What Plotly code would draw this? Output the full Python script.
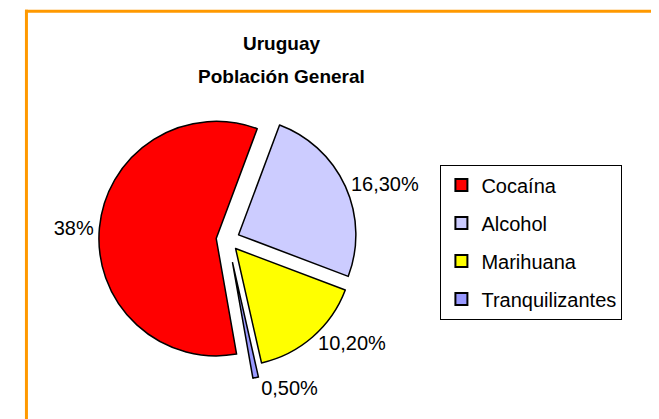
import plotly.graph_objects as go

labels = ["Cocaína", "Alcohol", "Marihuana", "Tranquilizantes"]
values = [38.0, 16.3, 10.2, 0.5]
value_text = ["38%", "16,30%", "10,20%", "0,50%"]
colors = ["#FF0000", "#CCCCFF", "#FFFF00", "#9999FF"]
pulls = [0.1, 0.1, 0.1, 0.2]
title_lines = ["Uruguay", "Población General"]

W, H = 651, 452
OX, SY = 8, 452 / 419          # page offset / vertical scale of the photographed page
FONT = "Liberation Sans, Arial, sans-serif"


def px(x):
    return (x - OX) / W


def py(y):
    return 1 - (y * SY) / H


# pie box
cx, cy, r = 219 - OX, 233 * SY, 123
half = r * (1 + max(pulls))
fig = go.Figure()

fig.add_trace(go.Pie(
    labels=labels,
    values=values,
    text=value_text,
    texttemplate="%{text}",
    textposition="outside",
    textfont=dict(family=FONT, size=20, color="black"),
    marker=dict(colors=colors, line=dict(color="black", width=1.5)),
    pull=pulls,
    sort=False,
    direction="clockwise",
    rotation=170,
    showlegend=False,
    domain=dict(x=[(cx - half) / W, (cx + half) / W],
                y=[1 - (cy + half) / H, 1 - (cy - half) / H]),
    hoverinfo="label+text",
))

for i, (lab, col) in enumerate(zip(labels, colors)):
    fig.add_trace(go.Scatter(
        x=[None], y=[None], mode="markers", name=lab,
        legendgroup=f"g{i}",
        marker=dict(symbol="square", size=12, color=col,
                    line=dict(color="black", width=1)),
        showlegend=True, hoverinfo="skip",
    ))

frame = dict(color="#FF9900", width=3)
fig.update_layout(
    width=W, height=H,
    margin=dict(l=0, r=0, t=0, b=0),
    paper_bgcolor="white", plot_bgcolor="white",
    font=dict(family=FONT, color="black"),
    xaxis=dict(visible=False), yaxis=dict(visible=False),
    legend=dict(
        x=px(440), y=py(160), xanchor="left", yanchor="top",
        bordercolor="black", borderwidth=1, bgcolor="white",
        font=dict(family=FONT, size=20, color="black"),
        tracegroupgap=9, itemsizing="constant",
    ),
    shapes=[
        dict(type="line", xref="paper", yref="paper",
             x0=0, x1=1, y0=py(11), y1=py(11), line=frame),
        dict(type="line", xref="paper", yref="paper",
             x0=1.5 / W, x1=1.5 / W, y0=0, y1=py(9.5), line=frame),
    ],
    annotations=[
        dict(text=f"<b>{title_lines[0]}</b>", x=px(275), y=py(42), xref="paper", yref="paper",
             showarrow=False, font=dict(family=FONT, size=19, color="black"),
             xanchor="center", yanchor="middle"),
        dict(text=f"<b>{title_lines[1]}</b>", x=px(275), y=py(74), xref="paper", yref="paper",
             showarrow=False, font=dict(family=FONT, size=19, color="black"),
             xanchor="center", yanchor="middle"),
    ],
)

fig.write_html(
    "out.html",
    config={"displayModeBar": False},
    post_script=("document.documentElement.style.margin='0';"
                 "document.documentElement.style.padding='0';"
                 "document.body.style.margin='0';document.body.style.padding='0';"
                 "document.body.style.overflow='hidden';"),
)
